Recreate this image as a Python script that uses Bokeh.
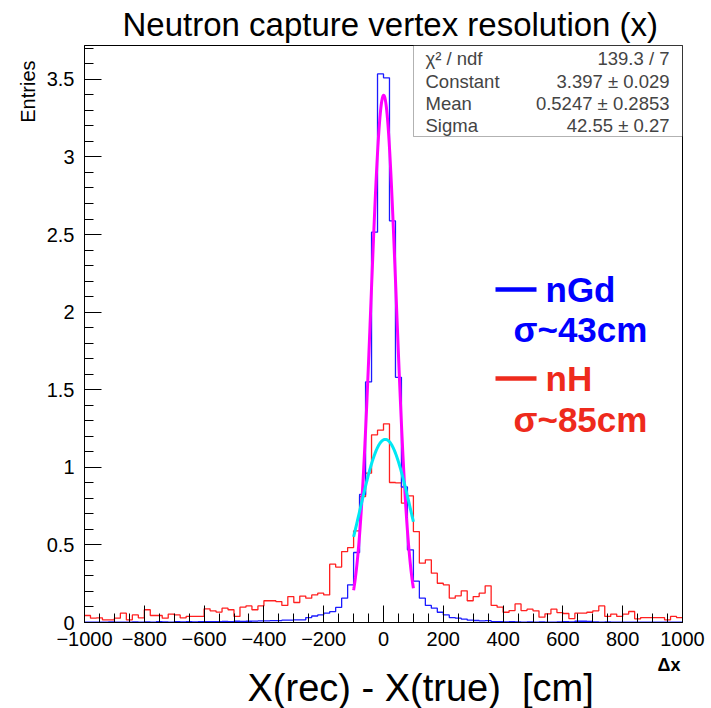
import numpy as np
from bokeh.plotting import figure
from bokeh.models import Label, BoxAnnotation, FixedTicker, Range1d, Title
from bokeh.embed import file_html
from bokeh.resources import INLINE

# ---------------- data ----------------
bin_lo, bin_hi, n_bins = -1000, 1000, 100

nH_counts = [
    0.045, 0.028, 0.030, 0.017, 0.017, 0.028, 0.060, 0.017, 0.049, 0.030,
    0.082, 0.045, 0.045, 0.028, 0.054, 0.049, 0.030, 0.040, 0.039, 0.039,
    0.088, 0.075, 0.067, 0.092, 0.082, 0.039, 0.099, 0.107, 0.082, 0.107,
    0.140, 0.140, 0.135, 0.110, 0.167, 0.129, 0.170, 0.157, 0.178, 0.189,
    0.178, 0.376, 0.357, 0.457, 0.483, 0.590, 0.812, 0.962, 1.209, 1.239,
    1.280, 0.902, 0.900, 0.769, 0.816, 0.586, 0.382, 0.404, 0.318, 0.253,
    0.243, 0.157, 0.172, 0.204, 0.140, 0.167, 0.189, 0.236, 0.110, 0.099,
    0.066, 0.077, 0.120, 0.077, 0.086, 0.075, 0.034, 0.056, 0.086, 0.064,
    0.058, 0.025, 0.060, 0.060, 0.066, 0.075, 0.107, 0.039, 0.054, 0.039,
    0.054, 0.071, 0.024, 0.032, 0.032, 0.032, 0.032, 0.017, 0.039, 0.032,
]

nGd_counts = [
    0.003, 0.002, 0.003, 0.002, 0.004, 0.003, 0.002, 0.003, 0.004, 0.003,
    0.004, 0.003, 0.005, 0.004, 0.003, 0.005, 0.004, 0.005, 0.004, 0.006,
    0.005, 0.006, 0.005, 0.007, 0.006, 0.008, 0.007, 0.008, 0.009, 0.010,
    0.010, 0.012, 0.012, 0.015, 0.015, 0.017, 0.017, 0.032, 0.042, 0.049,
    0.060, 0.070, 0.097, 0.157, 0.243, 0.451, 0.825, 1.550, 2.515, 3.535,
    3.510, 2.588, 1.580, 0.873, 0.468, 0.266, 0.157, 0.110, 0.092, 0.066,
    0.049, 0.032, 0.028, 0.022, 0.015, 0.013, 0.010, 0.012, 0.006, 0.005,
    0.004, 0.005, 0.004, 0.003, 0.004, 0.003, 0.004, 0.003, 0.003, 0.004,
    0.005, 0.004, 0.008, 0.008, 0.007, 0.004, 0.003, 0.004, 0.003, 0.002,
    0.003, 0.002, 0.003, 0.002, 0.003, 0.002, 0.002, 0.003, 0.002, 0.002,
]

x_major = [-1000, -800, -600, -400, -200, 0, 200, 400, 600, 800, 1000]
x_tick_labels = ["\u22121000", "\u2212800", "\u2212600", "\u2212400", "\u2212200",
                 "0", "200", "400", "600", "800", "1000"]
y_major = [0, 0.5, 1, 1.5, 2, 2.5, 3, 3.5]
y_tick_labels = ["0", "0.5", "1", "1.5", "2", "2.5", "3", "3.5"]

# Gaussian fit parameters
gd_fit = dict(const=3.397, mean=0.5247, sigma=42.55)
h_fit = dict(const=1.18, mean=6.0, sigma=86.0)
fit_range = (-100, 100)

stats_rows = [("\u03c7\u00b2 / ndf", "139.3 / 7"),
              ("Constant", "3.397 \u00b1 0.029"),
              ("Mean", "0.5247 \u00b1 0.2853"),
              ("Sigma", "42.55 \u00b1 0.27")]

title_text = "Neutron capture vertex resolution (x)"
y_title = "Entries"
x_title_small = "\u0394x"
x_title_big = "X(rec) - X(true)\u00a0\u00a0[cm]"
legend_items = [("nGd", "\u03c3~43cm", "#0000ff"), ("nH", "\u03c3~85cm", "#ee2a1c")]

# ---------------- figure ----------------
Y_TOP = 3.718
FW, FH = 598, 577
FONT = "Liberation Sans"
HAS_STANDOFF = "standoff" in Title.properties()

p = figure(frame_width=FW, frame_height=FH,
           min_border_left=84, min_border_right=29,
           min_border_top=44, min_border_bottom=87,
           x_range=Range1d(bin_lo, bin_hi), y_range=Range1d(0, Y_TOP),
           output_backend="svg", toolbar_location=None)
p.grid.visible = False
p.outline_line_color = "black"
p.outline_line_width = 1
p.background_fill_color = "white"
p.border_fill_color = "white"

# main title
p.title.text = title_text
p.title.text_font = FONT
p.title.text_font_size = "33px"
p.title.text_font_style = "normal"
p.title.text_color = "black"
p.title.align = "left"
p.title.offset = 38
if HAS_STANDOFF:
    p.title.standoff = 6

# pixel helpers (frame origin at canvas 84,44)
def dx(px):
    return bin_lo + (px - 84) * (bin_hi - bin_lo) / FW

def dy(py):
    return (44 + FH - py) * Y_TOP / FH

edges = np.linspace(bin_lo, bin_hi, n_bins + 1)

def stairs(vals):
    return np.append(np.array(vals), vals[-1])

def gauss(par, x):
    return par["const"] * np.exp(-0.5 * ((x - par["mean"]) / par["sigma"]) ** 2)

xf = np.linspace(fit_range[0], fit_range[1], 201)

p.step(edges, stairs(nH_counts), mode="after", line_color="#ff2020", line_width=1.3)
p.step(edges, stairs(nGd_counts), mode="after", line_color="#1a1aff", line_width=1.3)
p.line(xf, gauss(gd_fit, xf), line_color="#ff00ff", line_width=3)
p.line(xf, gauss(h_fit, xf), line_color="#00e8f4", line_width=3)

# axes
xa = p.xaxis[0]
xa.ticker = FixedTicker(ticks=x_major, minor_ticks=list(range(-1000, 1001, 50)))
xa.major_label_overrides = {float(t): l for t, l in zip(x_major, x_tick_labels)}
ya = p.yaxis[0]
ya.ticker = FixedTicker(ticks=y_major, minor_ticks=[round(0.1 * i, 1) for i in range(0, 38)])
ya.major_label_overrides = {float(t): l for t, l in zip(y_major, y_tick_labels)}
for ax in (xa, ya):
    ax.major_tick_in = 17
    ax.major_tick_out = 0
    ax.minor_tick_in = 9
    ax.minor_tick_out = 0
    ax.axis_line_color = "black"
    ax.major_tick_line_color = "black"
    ax.minor_tick_line_color = "black"
    ax.major_label_text_font = FONT
    ax.major_label_text_font_size = "20px"
    ax.major_label_text_color = "black"
xa.major_label_standoff = 9
ya.major_label_standoff = 10

# axis titles as side panels
t_entries = Title(text=y_title, align="right", offset=15, text_font=FONT,
                  text_font_size="20px", text_font_style="normal", text_color="black")
if HAS_STANDOFF:
    t_entries.standoff = 10
p.add_layout(t_entries, "left")

t_dx = Title(text=x_title_small, align="right", offset=2, vertical_align="top",
             text_font=FONT, text_font_size="18px", text_font_style="bold",
             text_color="black")
t_big = Title(text=x_title_big, align="left", offset=163, vertical_align="top",
              text_font=FONT, text_font_size="38px", text_font_style="normal",
              text_color="black")
if HAS_STANDOFF:
    t_dx.standoff = 12
    t_big.standoff = -32
p.add_layout(t_dx, "below")
p.add_layout(t_big, "below")

# stats box
p.add_layout(BoxAnnotation(left=dx(413), right=bin_hi, bottom=dy(135), top=Y_TOP,
                           fill_color="white", fill_alpha=1.0,
                           line_color="black", line_width=1, level="overlay"))
row_y = [57, 80, 102, 124]
for (name, val), ry in zip(stats_rows, row_y):
    p.add_layout(Label(x=dx(425), y=dy(ry), text=name, text_font=FONT,
                       text_font_size="18.5px", text_align="left", text_baseline="middle",
                       level="overlay"))
    p.add_layout(Label(x=dx(669), y=dy(ry), text=val, text_font=FONT,
                       text_font_size="18.5px", text_align="right", text_baseline="middle",
                       level="overlay"))

# legend text
leg_y = [(288, 328), (377, 418)]
for (name, sig, col), (ly1, ly2) in zip(legend_items, leg_y):
    p.line([dx(495), dx(536)], [dy(ly1), dy(ly1)], line_color=col, line_width=4.5)
    p.add_layout(Label(x=dx(545), y=dy(ly1), text=name, text_font=FONT,
                       text_font_style="bold", text_font_size="35px", text_color=col,
                       text_align="left", text_baseline="middle"))
    p.add_layout(Label(x=dx(513), y=dy(ly2), text=sig, text_font=FONT,
                       text_font_style="bold", text_font_size="35px", text_color=col,
                       text_align="left", text_baseline="middle"))

open("out.html", "w").write(file_html(p, INLINE))
